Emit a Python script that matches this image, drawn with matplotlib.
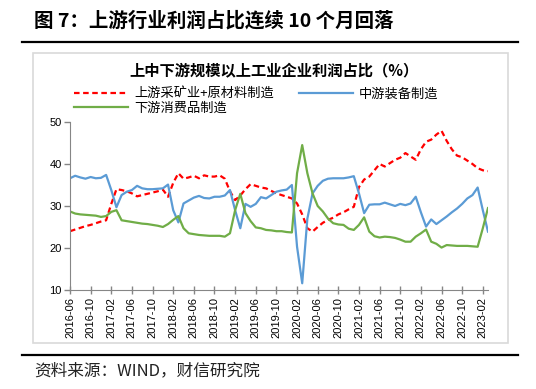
import matplotlib
matplotlib.use("Agg")
import matplotlib.pyplot as plt
import numpy as np
import pandas as pd

plt.rcParams['font.family'] = ['Noto Sans CJK SC', 'DejaVu Sans']

# monthly data, 2016-06 .. 2023-03
months = pd.date_range("2016-06-01", periods=82, freq="MS").strftime("%Y-%m").tolist()

upstream = [24.0, 24.4, 24.8, 25.2, 25.5, 25.9, 26.3, 26.6, 30.5, 34.0,
            33.8, 33.5, 33.0, 32.3, 32.6, 32.9, 33.2, 33.5, 33.9, 32.2,
            35.5, 37.8, 36.5, 36.8, 37.2, 36.6, 37.3, 37.0, 37.0, 37.3,
            36.5, 33.5, 31.4, 32.5, 34.0, 35.2, 34.8, 34.4, 34.2, 33.6,
            33.0, 32.6, 32.2, 31.8, 30.6, 28.0, 24.7, 23.9, 25.0, 26.0,
            26.7, 27.2, 28.0, 28.5, 29.2, 29.8, 34.5, 36.3, 37.0, 38.5,
            40.0, 39.4, 40.2, 41.0, 41.5, 42.6, 41.8, 41.0, 43.5, 45.3,
            45.8, 47.0, 47.9, 45.5, 43.5, 42.0, 41.6, 40.8, 40.0, 39.0,
            38.5, 38.3]

midstream = [36.6, 37.2, 36.8, 36.5, 36.9, 36.6, 36.7, 37.4, 33.8, 29.7,
             32.6, 33.4, 33.8, 34.8, 34.2, 34.0, 34.0, 34.1, 34.2, 35.1,
             29.0, 26.1, 30.6, 31.3, 32.0, 32.4, 31.9, 31.8, 32.2, 32.2,
             32.5, 33.8, 29.0, 24.7, 30.5, 29.8, 30.5, 32.1, 31.8, 32.6,
             33.4, 33.7, 33.9, 35.0, 20.3, 11.6, 27.0, 33.0, 34.8, 36.0,
             36.5, 36.6, 36.6, 36.6, 36.8, 37.1, 33.0, 28.3, 30.3, 30.4,
             30.4, 30.8, 30.4, 30.0, 30.5, 30.2, 30.6, 32.2, 28.5, 25.1,
             26.8, 25.7, 26.6, 27.5, 28.5, 29.4, 30.5, 31.8, 32.6, 34.4,
             29.0, 23.9]

downstream = [28.7, 28.2, 28.0, 27.9, 27.8, 27.7, 27.4, 27.6, 28.6, 29.0,
              26.6, 26.4, 26.2, 26.0, 25.8, 25.7, 25.5, 25.3, 25.0, 25.7,
              26.7, 27.6, 24.7, 23.5, 23.3, 23.1, 23.0, 22.9, 22.9, 22.9,
              22.7, 23.5, 29.0, 32.9, 28.3, 26.4, 24.9, 24.7, 24.3, 24.2,
              24.0, 24.0, 23.8, 23.7, 37.8, 44.5, 37.8, 33.0, 30.0, 28.7,
              27.0, 25.9, 25.6, 25.5, 24.6, 24.3, 25.5, 27.3, 23.9, 22.8,
              22.5, 22.7, 22.6, 22.4, 22.0, 21.5, 21.5, 22.7, 23.5, 24.4,
              21.5, 21.0, 20.1, 20.7, 20.6, 20.5, 20.5, 20.5, 20.4, 20.3,
              24.7, 29.5]

names = ["上游采矿业+原材料制造", "中游装备制造", "下游消费品制造"]

fig = plt.figure(figsize=(5.36, 3.89), dpi=100)

# frame lines and chart box
fig.add_artist(plt.Line2D([0.041, 0.966], [0.892, 0.892], color="black", lw=1.6))
fig.add_artist(plt.Line2D([0.041, 0.966], [0.0874, 0.0874], color="black", lw=1.6))
fig.add_artist(plt.Rectangle((0.0616, 0.118), 0.886, 0.7455, fill=False,
                             edgecolor="#D9D9D9", lw=1.2))

fig.text(0.063, 0.948, "图 7：上游行业利润占比连续 10 个月回落", fontsize=14,
         fontweight="bold", va="center", ha="left")
fig.text(0.063, 0.046, "资料来源：WIND，财信研究院", fontsize=12,
         va="center", ha="left", color="#222222")
fig.text(0.511, 0.82, "上中下游规模以上工业企业利润占比（%）", fontsize=11,
         fontweight="bold", va="center", ha="center")

ax = fig.add_axes([0.1306, 0.2545, 0.7798, 0.4319])
x = np.arange(len(months))
l1, = ax.plot(x, upstream, color="#FF0000", lw=1.6, linestyle=(0, (2.5, 1.6)))
l2, = ax.plot(x, midstream, color="#5B9BD5", lw=1.6)
l3, = ax.plot(x, downstream, color="#70AD47", lw=1.6)

ax.set_xlim(0, len(months) - 1)
ax.set_ylim(10, 50)
ax.set_yticks([10, 20, 30, 40, 50])
ax.set_xticks(x[::4])
ax.set_xticklabels(months[::4], rotation=90)
for lab in ax.get_xticklabels() + ax.get_yticklabels():
    lab.set_fontfamily("Liberation Sans")
    lab.set_fontsize(8)
for s in ["top", "right"]:
    ax.spines[s].set_visible(False)
for s in ["left", "bottom"]:
    ax.spines[s].set_color("#868686")
ax.tick_params(axis="both", color="#868686", length=4, width=1, pad=2)
ax.tick_params(axis="x", direction="inout", length=6)

fig.legend([l1, l3, l2], [names[0], names[2], names[1]], ncol=2,
           loc="upper left", bbox_to_anchor=(0.138, 0.775), frameon=False,
           fontsize=9.5, handlelength=4.1, columnspacing=1.9,
           handletextpad=0.45, labelspacing=0.1, borderaxespad=0, borderpad=0)

fig.savefig("out.png", dpi=100)
